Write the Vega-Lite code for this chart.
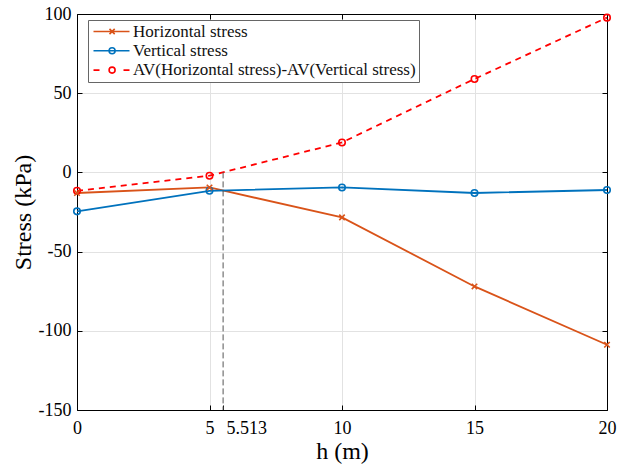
{
  "$schema": "https://vega.github.io/schema/vega-lite/v6.json",
  "width": 530,
  "height": 396,
  "autosize": {"type": "none"},
  "padding": {"left": 77, "top": 14, "right": 16, "bottom": 55},
  "background": "white",
  "datasets": {
    "stress": [
      {"h": 0, "series": "Horizontal stress", "stress": -13.0},
      {"h": 5, "series": "Horizontal stress", "stress": -9.5},
      {"h": 10, "series": "Horizontal stress", "stress": -28.4},
      {"h": 15, "series": "Horizontal stress", "stress": -72.0},
      {"h": 20, "series": "Horizontal stress", "stress": -108.8},
      {"h": 0, "series": "Vertical stress", "stress": -24.6},
      {"h": 5, "series": "Vertical stress", "stress": -11.6},
      {"h": 10, "series": "Vertical stress", "stress": -9.5},
      {"h": 15, "series": "Vertical stress", "stress": -13.0},
      {"h": 20, "series": "Vertical stress", "stress": -11.1},
      {"h": 0, "series": "AV(Horizontal stress)-AV(Vertical stress)", "stress": -11.6},
      {"h": 5, "series": "AV(Horizontal stress)-AV(Vertical stress)", "stress": -2.1},
      {"h": 10, "series": "AV(Horizontal stress)-AV(Vertical stress)", "stress": 18.9},
      {"h": 15, "series": "AV(Horizontal stress)-AV(Vertical stress)", "stress": 59.0},
      {"h": 20, "series": "AV(Horizontal stress)-AV(Vertical stress)", "stress": 97.7}
    ],
    "crossing": [
      {"h": 5.513, "from": 0, "to": -150}
    ]
  },
  "config": {
    "font": "Liberation Serif",
    "view": {"stroke": null},
    "style": {
      "guide-label": {"font": "Liberation Serif"},
      "guide-title": {"font": "Liberation Serif"}
    },
    "axis": {
      "domainColor": "#000",
      "domainWidth": 1,
      "tickColor": "#000",
      "tickWidth": 1,
      "tickSize": -5,
      "gridColor": "#e2e2e2",
      "gridWidth": 1,
      "labelColor": "#000",
      "titleColor": "#000",
      "labelFont": "Liberation Serif",
      "titleFont": "Liberation Serif",
      "labelFontSize": 18,
      "titleFontSize": 24,
      "titleFontWeight": "normal"
    }
  },
  "resolve": {"axis": {"x": "independent", "y": "independent"}},
  "layer": [
    {
      "data": {"name": "stress"},
      "transform": [{"filter": "datum.series !== 'AV(Horizontal stress)-AV(Vertical stress)'"}],
      "mark": {"type": "line", "strokeWidth": 1.8},
      "encoding": {
        "x": {
          "field": "h", "type": "quantitative",
          "scale": {"domain": [0, 20], "nice": false, "zero": false},
          "axis": {
            "orient": "bottom",
            "title": "h (m)",
            "values": [0, 5, 5.513, 10, 15, 20],
            "labelExpr": "toString(datum.value)",
            "labelFont": "Liberation Serif",
            "titleFont": "Liberation Serif",
            "grid": false,
            "labelOverlap": false,
            "labelPadding": 14,
            "titlePadding": 2,
            "labelAlign": {"condition": {"test": "datum.value == 5.513", "value": "left"}, "value": "center"},
            "labelOffset": {"condition": {"test": "datum.value == 5.513", "value": 3}, "value": 0}
          }
        },
        "y": {
          "field": "stress", "type": "quantitative",
          "scale": {"domain": [-150, 100], "nice": false, "zero": false},
          "axis": {
            "orient": "left",
            "title": "Stress (kPa)",
            "values": [-150, -100, -50, 0, 50, 100],
            "labelExpr": "toString(datum.value)",
            "labelFont": "Liberation Serif",
            "titleFont": "Liberation Serif",
            "grid": false,
            "labelPadding": 11,
            "titlePadding": 3
          }
        },
        "color": {
          "field": "series", "type": "nominal",
          "scale": {
            "domain": ["Horizontal stress", "Vertical stress", "AV(Horizontal stress)-AV(Vertical stress)"],
            "range": ["#D95319", "#0072BD", "#FF0000"]
          },
          "legend": {
            "title": null,
            "orient": "none",
            "legendX": 11,
            "legendY": 6,
            "padding": 3,
            "strokeColor": "#666",
            "fillColor": "white",
            "labelFont": "Liberation Serif",
            "labelFontSize": 17,
            "labelColor": "#111",
            "labelLimit": 500,
            "labelOffset": 25,
            "rowPadding": 1.3,
            "symbolSize": 4,
            "symbolStrokeWidth": 1.6,
            "labelExpr": "datum.value === 'AV(Horizontal stress)-AV(Vertical stress)' ? datum.label + '\u00a0\u00a0\u00a0\u00a0\u00a0' : datum.label",
            "encode": {
              "symbols": {
                "update": {
                  "shape": {"signal": "datum.value === 'Horizontal stress' ? 'M-6,0H30M10,-2.6L15.2,2.6M10,2.6L15.2,-2.6' : datum.value === 'Vertical stress' ? 'M-6,0H30M9.6,0A3,3 0 1 1 15.6,0A3,3 0 1 1 9.6,0' : 'M-6,0H0M24,0H30M9.6,0A3,3 0 1 1 15.6,0A3,3 0 1 1 9.6,0'"},
                  "fill": {"value": "transparent"},
                  "size": {"value": 4},
                  "strokeWidth": {"value": 1.6},
                  "opacity": {"value": 1}
                }
              }
            }
          }
        }
      }
    },
    {
      "data": {"name": "stress"},
      "transform": [{"filter": "datum.series === 'AV(Horizontal stress)-AV(Vertical stress)'"}],
      "mark": {"type": "line", "strokeWidth": 1.8, "strokeDash": [6, 5]},
      "encoding": {
        "x": {
          "field": "h", "type": "quantitative",
          "scale": {"domain": [0, 20], "nice": false, "zero": false},
          "axis": {"orient": "top", "title": null, "labels": false, "values": [0, 5, 10, 15, 20], "grid": true}
        },
        "y": {
          "field": "stress", "type": "quantitative",
          "scale": {"domain": [-150, 100], "nice": false, "zero": false},
          "axis": {"orient": "right", "title": null, "labels": false, "values": [-150, -100, -50, 0, 50, 100], "grid": true}
        },
        "color": {"field": "series", "type": "nominal"}
      }
    },
    {
      "data": {"name": "crossing"},
      "mark": {"type": "rule", "color": "#555", "strokeWidth": 1, "strokeDash": [6, 3]},
      "encoding": {
        "x": {"field": "h", "type": "quantitative", "scale": {"domain": [0, 20], "nice": false, "zero": false}, "axis": null},
        "y": {"field": "from", "type": "quantitative", "scale": {"domain": [-150, 100], "nice": false, "zero": false}, "axis": null},
        "y2": {"field": "to"}
      }
    },
    {
      "data": {"name": "stress"},
      "transform": [{"filter": "datum.series !== 'Horizontal stress'"}],
      "mark": {"type": "point", "shape": "circle", "filled": false, "size": 42, "strokeWidth": 1.6, "opacity": 1},
      "encoding": {
        "x": {"field": "h", "type": "quantitative", "scale": {"domain": [0, 20], "nice": false, "zero": false}, "axis": null},
        "y": {"field": "stress", "type": "quantitative", "scale": {"domain": [-150, 100], "nice": false, "zero": false}, "axis": null},
        "color": {"field": "series", "type": "nominal"}
      }
    },
    {
      "data": {"name": "stress"},
      "transform": [{"filter": "datum.series === 'Horizontal stress'"}],
      "mark": {"type": "point", "shape": "M-1,-1L1,1M-1,1L1,-1", "filled": false, "size": 30, "strokeWidth": 1.6, "opacity": 1},
      "encoding": {
        "x": {"field": "h", "type": "quantitative", "scale": {"domain": [0, 20], "nice": false, "zero": false}, "axis": null},
        "y": {"field": "stress", "type": "quantitative", "scale": {"domain": [-150, 100], "nice": false, "zero": false}, "axis": null},
        "color": {"field": "series", "type": "nominal"}
      }
    }
  ]
}
